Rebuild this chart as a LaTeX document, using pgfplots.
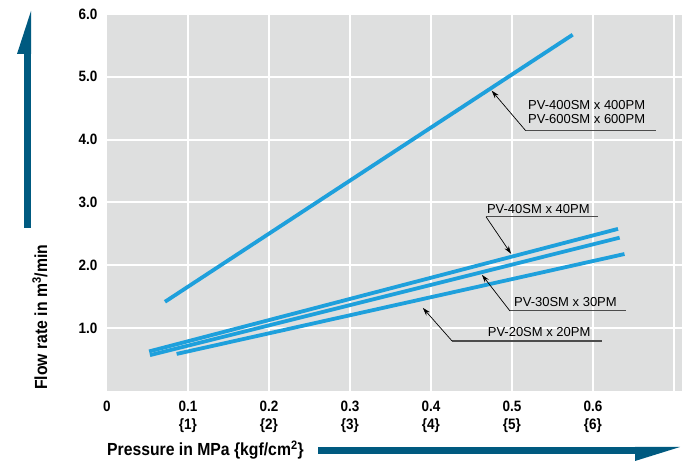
\documentclass[border=0pt]{standalone}
\usepackage{fontspec}
\setmainfont{Liberation Sans}
\newfontfamily\condbold[FakeStretch=0.9]{Liberation Sans Bold}
\usepackage{pgfplots}
\pgfplotsset{compat=1.18}
\usetikzlibrary{arrows.meta}
\definecolor{bggray}{RGB}{222,223,223}
\definecolor{lineblue}{RGB}{30,160,220}
\definecolor{darkteal}{RGB}{0,90,128}
\begin{document}
\begin{tikzpicture}[x=1pt,y=1pt]
\useasboundingbox (0,0) rectangle (685,462);
\begin{axis}[
  at={(107pt,71pt)}, anchor=south west,
  scale only axis, width=575pt, height=377pt,
  xmin=0, xmax=0.71, ymin=0, ymax=6,
  axis background/.style={fill=bggray},
  axis line style={draw=none},
  major tick length=0pt,
  xtick={0.1,0.2,0.3,0.4,0.5,0.6,0.7},
  xticklabels={{0.1\\\{1\}},{0.2\\\{2\}},{0.3\\\{3\}},{0.4\\\{4\}},{0.5\\\{5\}},{0.6\\\{6\}},{}},
  extra x ticks={0}, extra x tick labels={0},
  extra x tick style={grid=none},
  ytick={1,2,3,4,5,6},
  yticklabels={1.0,2.0,3.0,4.0,5.0,6.0},
  xticklabel style={align=center, anchor=north, font=\condbold\fontsize{15}{18}\selectfont, yshift=-6pt},
  yticklabel style={anchor=east, font=\condbold\fontsize{15}{15}\selectfont, xshift=-6pt},
  grid=major,
  major grid style={white, line width=2pt},
  /pgf/number format/assume math mode=true,
]
\addplot[lineblue, line width=3.8pt] coordinates {(0.0716,1.42) (0.575,5.67)};
\addplot[lineblue, line width=3.8pt] coordinates {(0.052,0.63) (0.631,2.58)};
\addplot[lineblue, line width=3.8pt] coordinates {(0.053,0.57) (0.633,2.44)};
\addplot[lineblue, line width=3.8pt] coordinates {(0.086,0.59) (0.639,2.18)};
% annotations
\draw[black!70, line width=1.2pt] (axis cs:0.517,4.143) -- (axis cs:0.678,4.143);
\draw[black, line width=0.7pt, -{Stealth[length=8pt,width=5pt]}] (axis cs:0.517,4.143) -- (axis cs:0.475,4.78);
\node[anchor=base west, inner sep=0pt, font=\fontsize{13}{15}\selectfont] at (axis cs:0.5198,4.478) {PV-400SM x 400PM};
\node[anchor=base west, inner sep=0pt, font=\fontsize{13}{15}\selectfont] at (axis cs:0.5198,4.255) {PV-600SM x 600PM};
\draw[black!70, line width=1.2pt] (axis cs:0.468,2.773) -- (axis cs:0.606,2.773);
\draw[black, line width=0.7pt, -{Stealth[length=8pt,width=5pt]}] (axis cs:0.468,2.773) -- (axis cs:0.499,2.183);
\node[anchor=base west, inner sep=0pt, font=\fontsize{13}{15}\selectfont] at (axis cs:0.469,2.83) {PV-40SM x 40PM};
\draw[black!70, line width=1.2pt] (axis cs:0.4975,1.275) -- (axis cs:0.6407,1.275);
\draw[black, line width=0.7pt, -{Stealth[length=8pt,width=5pt]}] (axis cs:0.4975,1.275) -- (axis cs:0.463,1.849);
\node[anchor=base west, inner sep=0pt, font=\fontsize{13}{15}\selectfont] at (axis cs:0.5025,1.345) {PV-30SM x 30PM};
\draw[black!70, line width=1.2pt] (axis cs:0.426,0.797) -- (axis cs:0.611,0.797);
\draw[black, line width=0.7pt, -{Stealth[length=8pt,width=5pt]}] (axis cs:0.426,0.797) -- (axis cs:0.390,1.323);
\node[anchor=base west, inner sep=0pt, font=\fontsize{13}{15}\selectfont] at (axis cs:0.470,0.867) {PV-20SM x 20PM};
\end{axis}
% axis titles and arrows
\node[rotate=90, anchor=west, inner sep=0pt, font=\condbold\fontsize{17.5}{20}\selectfont] at (40,72) {Flow rate in m\textsuperscript{3}/min};
\fill[darkteal] (24,234) rectangle (31,408);
\fill[darkteal] (31,408) -- (17,408) -- (31,451) -- cycle;
\node[anchor=west, inner sep=0pt, font=\condbold\fontsize{17.5}{20}\selectfont] at (107,12) {Pressure in MPa \{kgf/cm\textsuperscript{2}\}};
\fill[darkteal] (318,8) rectangle (635,15);
\fill[darkteal] (635,15) -- (680,15) -- (635,1) -- cycle;
\end{tikzpicture}
\end{document}
